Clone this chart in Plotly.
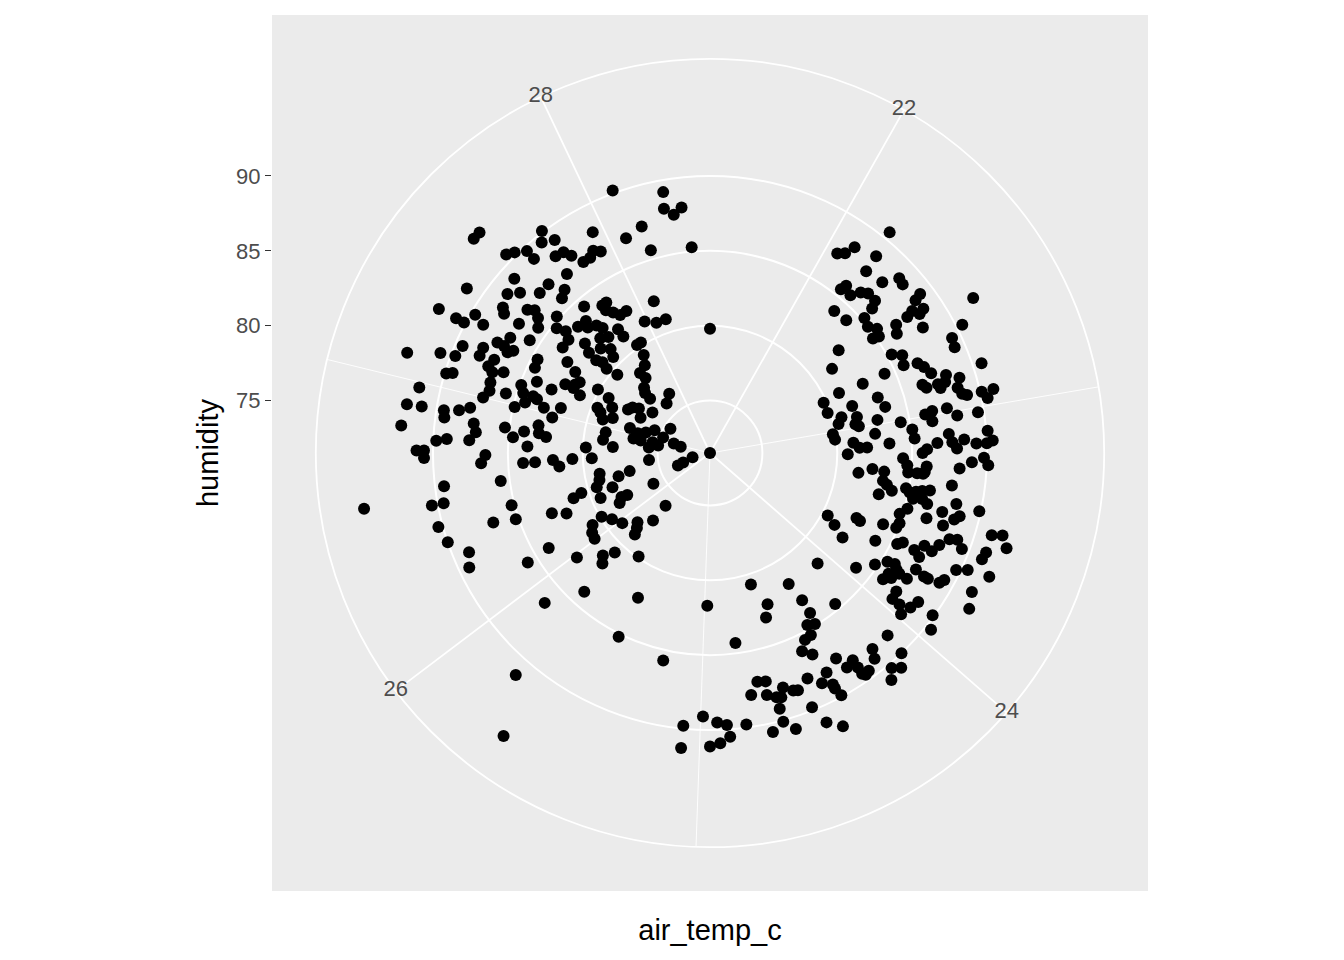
import plotly.graph_objects as go

# Values (one entry per point, same order in both lists)
AIR_TEMP_C = [
    27.59, 27.56, 27.60, 27.63, 27.67, 27.67, 27.77, 27.74, 27.55, 27.40,
    27.48, 27.52, 27.58, 27.28, 27.42, 27.40, 27.48, 27.28, 27.28, 27.33,
    27.31, 27.40, 27.48, 27.44, 27.19, 27.27, 27.32, 27.27, 27.36, 27.09,
    27.13, 27.14, 27.22, 27.18, 27.19, 27.25, 27.27, 27.15, 27.13, 27.15,
    27.06, 27.07, 27.24, 27.29, 26.98, 27.08, 27.04, 27.00, 27.05, 27.12,
    27.08, 27.08, 27.17, 26.91, 26.91, 26.91, 26.88, 26.92, 26.94, 26.99,
    27.03, 27.07, 26.83, 26.87, 26.83, 26.79, 26.87, 26.82, 26.86, 26.91,
    26.86, 26.74, 26.74, 26.71, 26.78, 26.79, 26.77, 26.72, 26.68, 26.67,
    26.67, 28.10, 28.30, 28.29, 28.33, 28.37, 28.17, 28.08, 28.18, 28.40,
    27.79, 27.95, 27.75, 27.79, 27.81, 27.84, 27.88, 27.94, 27.91, 27.74,
    27.64, 27.68, 27.64, 27.70, 27.79, 27.82, 27.79, 27.82, 27.85, 27.90,
    28.10, 27.98, 28.06, 28.14, 28.50, 27.50, 27.55, 27.50, 27.52, 27.49,
    27.43, 27.59, 27.65, 27.63, 27.68, 27.70, 27.64, 27.69, 27.78, 27.78,
    27.54, 27.51, 27.50, 27.52, 27.64, 27.61, 27.59, 27.50, 27.83, 27.87,
    27.83, 27.78, 27.69, 27.70, 27.37, 27.34, 27.52, 27.29, 27.26, 27.61,
    27.57, 27.56, 27.16, 27.23, 27.23, 27.20, 27.31, 27.29, 27.22, 27.16,
    27.13, 27.28, 27.33, 27.36, 27.26, 27.42, 27.69, 27.82, 27.03, 26.98,
    27.06, 27.07, 27.12, 26.95, 26.87, 26.84, 27.07, 27.03, 26.93, 27.08,
    27.17, 26.94, 27.09, 27.35, 27.02, 26.97, 26.94, 26.83, 26.89, 26.78,
    26.80, 21.42, 26.68, 26.68, 26.68, 26.63, 26.60, 26.31, 26.35, 26.46,
    26.52, 26.46, 26.45, 26.48, 26.35, 26.40, 26.17, 26.21, 26.20, 26.16,
    26.29, 26.39, 26.37, 25.75, 26.32, 26.28, 26.13, 26.06, 25.97, 25.87,
    25.83, 25.80, 25.75, 26.11, 26.06, 26.01, 26.13, 25.98, 25.87, 25.83,
    25.82, 25.64, 26.58, 26.59, 26.52, 26.52, 26.55, 26.44, 26.36, 26.38,
    26.43, 26.36, 26.29, 26.23, 26.12, 25.90, 25.79, 25.48, 25.48, 25.21,
    25.77, 25.67, 24.98, 24.81, 24.62, 24.35, 24.55, 24.59, 24.33, 24.18,
    24.38, 24.34, 24.39, 24.43, 24.47, 24.43, 24.09, 24.18, 24.20, 24.25,
    24.27, 24.10, 24.14, 24.17, 24.20, 24.34, 24.28, 24.32, 24.28, 24.28,
    24.41, 24.45, 24.41, 24.41, 24.40, 24.50, 24.73, 24.69, 24.77, 24.70,
    24.66, 24.62, 24.64, 24.58, 24.56, 24.66, 24.53, 24.66, 24.71, 24.62,
    24.50, 24.45, 24.81, 24.99, 25.07, 24.93, 24.89, 24.88, 24.92, 24.96,
    25.07, 22.19, 22.06, 22.09, 22.11, 22.21, 22.22, 22.31, 22.35, 22.38,
    22.18, 22.19, 22.24, 22.27, 22.30, 22.35, 22.37, 22.23, 22.32, 22.38,
    22.43, 22.47, 22.50, 22.51, 22.51, 22.55, 22.46, 22.47, 22.52, 22.53,
    22.51, 22.50, 22.59, 22.59, 22.66, 22.69, 22.73, 22.43, 22.63, 22.66,
    22.71, 22.73, 22.76, 22.80, 22.51, 22.71, 22.71, 22.70, 22.83, 22.90,
    22.84, 22.86, 22.86, 22.83, 22.86, 22.88, 22.86, 22.90, 22.93, 22.94,
    22.83, 22.94, 22.94, 22.97, 22.72, 22.82, 22.83, 22.89, 22.92, 22.97,
    23.01, 22.99, 22.98, 22.98, 23.02, 23.02, 22.94, 22.97, 22.99, 23.03,
    23.06, 23.11, 23.02, 23.07, 23.11, 23.15, 23.15, 23.06, 23.13, 23.19,
    23.17, 23.14, 23.10, 23.14, 23.17, 23.13, 23.15, 23.15, 23.10, 23.14,
    23.20, 23.22, 23.26, 23.26, 23.30, 23.23, 23.21, 23.24, 23.26, 23.34,
    23.30, 23.31, 23.37, 23.39, 23.30, 23.30, 23.29, 23.42, 23.46, 23.39,
    23.41, 23.40, 23.39, 23.38, 23.44, 23.43, 23.45, 23.34, 23.42, 23.43,
    23.47, 23.52, 23.53, 23.49, 23.47, 23.74, 23.78, 23.83, 23.66, 23.67,
    23.63, 23.54, 23.50, 23.62, 23.59, 23.74, 23.70, 23.68, 23.69, 23.71,
    23.65, 23.66, 23.62, 23.58, 23.57, 23.60, 23.51, 23.50, 23.54, 23.61,
    23.58, 24.09, 23.94, 23.86, 23.81, 23.80, 23.86, 23.82, 23.90, 23.87,
    23.83, 23.83, 23.77, 23.78, 23.78, 23.77, 23.75, 23.69, 23.67, 23.66,
    23.91, 23.95, 23.95, 23.93, 23.89, 23.98, 23.90, 23.74, 23.80, 24.33,
    23.95,
]

HUMIDITY = [
    92.8, 92.8, 90.5, 90.2, 89.7, 89.0, 90.1, 89.5, 89.0, 91.1,
    88.7, 88.1, 87.1, 92.0, 88.4, 88.1, 87.0, 90.7, 90.1, 89.7,
    88.9, 86.9, 86.1, 85.7, 89.5, 87.5, 86.9, 87.0, 85.7, 92.8,
    90.7, 89.7, 88.2, 88.2, 87.2, 86.6, 86.3, 87.4, 87.0, 86.3,
    89.9, 89.5, 84.5, 84.6, 91.4, 86.9, 86.8, 87.1, 85.7, 84.9,
    84.6, 83.9, 84.0, 92.0, 91.0, 89.5, 89.4, 88.5, 87.8, 84.9,
    84.3, 83.6, 92.2, 87.4, 87.2, 87.6, 85.3, 84.7, 84.0, 83.1,
    83.0, 91.1, 90.6, 90.6, 89.8, 89.1, 83.7, 86.5, 86.8, 84.0,
    83.2, 90.2, 89.2, 88.1, 87.6, 88.0, 87.3, 86.9, 85.6, 85.3,
    89.1, 88.2, 88.2, 88.1, 87.6, 86.8, 86.8, 86.8, 87.1, 86.8,
    87.1, 86.1, 85.8, 84.4, 83.7, 83.7, 83.3, 82.9, 82.5, 82.5,
    82.3, 81.3, 80.9, 80.9, 79.8, 86.6, 85.2, 84.7, 84.1, 83.6,
    83.6, 83.7, 83.6, 83.2, 82.9, 82.5, 82.1, 81.8, 81.8, 81.2,
    82.6, 82.0, 81.3, 80.9, 81.1, 80.6, 81.6, 80.4, 80.2, 80.2,
    79.4, 78.8, 78.6, 78.1, 82.8, 82.0, 79.6, 81.4, 81.6, 77.7,
    77.4, 76.9, 82.9, 82.2, 81.6, 81.0, 80.1, 79.2, 78.7, 79.6,
    79.3, 77.7, 77.5, 77.1, 76.7, 76.2, 75.9, 76.3, 83.0, 82.3,
    81.9, 79.0, 78.4, 78.6, 78.7, 82.5, 77.1, 76.5, 76.2, 76.0,
    75.5, 75.4, 74.8, 74.6, 74.0, 73.5, 76.7, 75.6, 75.0, 79.8,
    78.0, 71.5, 79.4, 80.7, 82.0, 81.6, 75.6, 73.8, 73.4, 72.7,
    79.0, 79.1, 77.8, 77.0, 78.4, 79.4, 75.8, 78.1, 77.7, 78.4,
    79.4, 80.5, 81.1, 76.1, 82.8, 81.9, 79.9, 79.4, 79.0, 78.2,
    78.5, 78.9, 77.4, 80.7, 81.0, 81.1, 84.0, 82.8, 81.4, 81.8,
    80.7, 79.9, 85.6, 89.4, 90.4, 89.6, 94.9, 85.2, 85.2, 86.7,
    90.3, 90.0, 88.9, 89.3, 85.7, 86.4, 84.0, 82.3, 85.2, 85.7,
    91.2, 94.9, 81.7, 84.3, 80.7, 81.7, 82.3, 83.1, 83.1, 84.6,
    84.7, 84.9, 85.4, 85.5, 86.1, 86.6, 88.5, 88.5, 89.1, 89.5,
    89.6, 90.0, 90.7, 90.3, 90.9, 87.6, 88.3, 88.5, 88.9, 89.4,
    88.1, 88.6, 89.0, 89.3, 89.9, 87.9, 87.1, 87.2, 87.9, 88.1,
    88.4, 87.9, 88.5, 88.3, 88.4, 89.2, 89.8, 90.1, 90.6, 90.8,
    91.1, 91.8, 89.8, 89.1, 89.8, 89.5, 89.7, 90.5, 90.9, 91.1,
    91.3, 90.5, 87.3, 87.6, 88.3, 88.7, 87.5, 87.7, 88.7, 88.6,
    85.5, 85.9, 85.6, 86.2, 86.5, 86.5, 86.0, 84.1, 84.2, 85.2,
    85.0, 85.4, 84.8, 85.2, 86.6, 86.3, 89.1, 88.6, 88.7, 88.3,
    87.5, 88.0, 88.0, 91.9, 90.4, 89.4, 89.3, 82.5, 85.3, 85.9,
    85.7, 86.6, 86.9, 87.2, 81.4, 84.3, 82.7, 81.0, 83.3, 83.6,
    86.4, 86.6, 87.4, 88.1, 87.9, 87.5, 88.9, 88.6, 88.8, 89.1,
    90.6, 90.1, 90.9, 90.4, 79.8, 79.8, 81.5, 80.6, 81.6, 82.9,
    84.4, 86.1, 86.6, 87.6, 88.2, 89.6, 80.3, 81.4, 81.6, 86.5,
    85.1, 85.2, 79.8, 79.9, 81.1, 81.5, 82.0, 82.6, 83.5, 85.7,
    86.0, 86.7, 87.5, 87.7, 88.0, 88.5, 89.3, 90.0, 90.1, 90.4,
    80.7, 84.4, 84.7, 86.0, 85.8, 89.0, 89.8, 90.1, 88.2, 81.5,
    82.4, 83.2, 83.2, 83.5, 84.8, 85.4, 85.9, 83.9, 83.1, 84.8,
    85.1, 85.5, 85.9, 86.4, 85.4, 86.0, 86.4, 87.8, 88.3, 89.9,
    87.5, 86.6, 87.8, 88.4, 88.7, 80.4, 81.1, 82.0, 82.2, 82.5,
    84.0, 84.8, 85.2, 84.9, 85.0, 84.0, 85.4, 85.7, 86.6, 87.1,
    87.1, 87.7, 88.0, 88.5, 89.0, 89.5, 91.1, 91.8, 92.3, 91.0,
    91.1, 81.8, 83.9, 84.8, 85.4, 85.9, 85.9, 86.2, 85.8, 86.2,
    86.5, 87.1, 87.3, 88.0, 88.3, 89.1, 89.3, 89.7, 90.4, 91.9,
    87.0, 87.1, 87.7, 88.4, 88.6, 88.2, 89.9, 91.3, 91.7, 84.1,
    90.4,
]

THETA_BREAKS = [22, 24, 26, 28]
THETA_MINOR = [23, 25, 27]
R_BREAKS = [75, 80, 85, 90]

PANEL = "#EBEBEB"
TICK_TEXT = "#4D4D4D"
TICK_LINE = "#333333"
FONT = "Liberation Sans, Arial, Helvetica, sans-serif"
GRID_MAJOR = 1.8
GRID_MINOR = 0.9

# coord_polar: theta spans the data range over the full turn,
# r spans the data range over 0..0.4 of the panel, outer ring at 0.45
t_min, t_max = min(AIR_TEMP_C), max(AIR_TEMP_C)
h_min, h_max = min(HUMIDITY), max(HUMIDITY)
r_outer = h_min + (h_max - h_min) * 0.45 / 0.4
half_panel = (h_max - h_min) * 0.5 / 0.4


def to_angle(temps):
    return [(t - t_min) / (t_max - t_min) * 360 for t in temps]


def spokes(breaks):
    r, theta = [], []
    for a in to_angle(breaks):
        r += [h_min, r_outer, None]
        theta += [a, a, None]
    return r, theta


fig = go.Figure()

# invisible cartesian trace so the left humidity axis and the grey panel are drawn
fig.add_trace(
    go.Scatter(x=[0.5], y=[h_min], mode="markers", marker=dict(opacity=0),
               hoverinfo="skip", showlegend=False)
)

r_min_sp, th_min_sp = spokes(THETA_MINOR)
fig.add_trace(
    go.Scatterpolar(r=r_min_sp, theta=th_min_sp, mode="lines",
                    line=dict(color="white", width=GRID_MINOR), hoverinfo="skip")
)
r_maj_sp, th_maj_sp = spokes(THETA_BREAKS)
fig.add_trace(
    go.Scatterpolar(r=r_maj_sp, theta=th_maj_sp, mode="lines",
                    line=dict(color="white", width=GRID_MAJOR), hoverinfo="skip")
)

fig.add_trace(
    go.Scatterpolar(
        r=HUMIDITY,
        theta=to_angle(AIR_TEMP_C),
        mode="markers",
        marker=dict(color="black", size=12, line=dict(width=0)),
        cliponaxis=False,
        hovertemplate="air_temp_c %{customdata:.2f}<br>humidity %{r:.1f}<extra></extra>",
        customdata=AIR_TEMP_C,
    )
)

fig.add_trace(
    go.Scatterpolar(
        r=[r_outer] * len(THETA_BREAKS),
        theta=to_angle(THETA_BREAKS),
        mode="text",
        text=[str(b) for b in THETA_BREAKS],
        textposition="middle center",
        textfont=dict(family=FONT, size=22, color=TICK_TEXT),
        cliponaxis=False,
        hoverinfo="skip",
    )
)

# the page body adds an 8px offset, so margins are trimmed by that much
fig.update_layout(
    width=1344,
    height=960,
    margin=dict(l=264, r=204, t=7, b=77, pad=0),
    paper_bgcolor="white",
    plot_bgcolor=PANEL,
    showlegend=False,
    font=dict(family=FONT, color="black"),
    polar=dict(
        domain=dict(x=[0.05, 0.95], y=[0.05, 0.95]),
        bgcolor="rgba(0,0,0,0)",
        radialaxis=dict(
            range=[h_min, r_outer],
            tickvals=R_BREAKS,
            showticklabels=False,
            ticks="",
            showline=False,
            gridcolor="white",
            gridwidth=GRID_MAJOR,
            layer="below traces",
        ),
        angularaxis=dict(
            rotation=90,
            direction="clockwise",
            showgrid=False,
            showticklabels=False,
            ticks="",
            showline=True,
            linecolor="white",
            linewidth=GRID_MAJOR,
            layer="below traces",
        ),
    ),
    xaxis=dict(
        range=[0, 1],
        showticklabels=False,
        showgrid=False,
        zeroline=False,
        showline=False,
        ticks="",
        fixedrange=True,
        title=dict(text="air_temp_c", font=dict(size=29, color="black"), standoff=28),
    ),
    yaxis=dict(
        range=[h_min - half_panel, h_min + half_panel],
        tickvals=R_BREAKS,
        ticks="outside",
        ticklen=6,
        tickwidth=1.4,
        tickcolor=TICK_LINE,
        tickfont=dict(size=22, color=TICK_TEXT),
        showgrid=False,
        zeroline=False,
        showline=False,
        fixedrange=True,
        title=dict(text="humidity", font=dict(size=29, color="black"), standoff=8),
    ),
)

fig.write_html("out.html")
